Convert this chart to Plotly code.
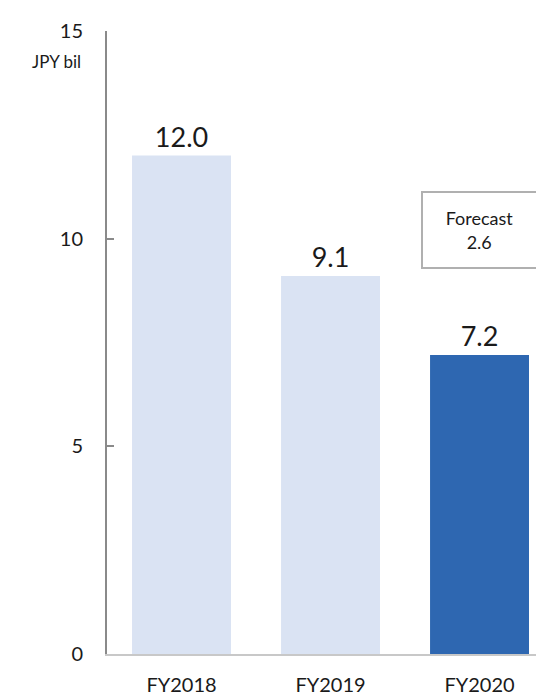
import plotly.graph_objects as go

categories = ["FY2018", "FY2019", "FY2020"]
values = [12.0, 9.1, 7.2]
labels = ["12.0", "9.1", "7.2"]
colors = ["#DAE3F3", "#DAE3F3", "#2E67B1"]
forecast_text = "Forecast<br>2.6"
y_ticks = [0, 5, 10, 15]
unit_label = "JPY bil"

FONT = "Lato"
TXT = "#1A1A1A"

fig = go.Figure()
fig.add_trace(go.Bar(
    x=categories, y=values,
    marker=dict(color=colors, line=dict(width=0)),
    width=0.664,
    text=labels, textposition="outside",
    textfont=dict(family=FONT, size=27, color=TXT),
    cliponaxis=False,
))

fig.add_annotation(
    x=2, y=10.2, xref="x", yref="y",
    text=forecast_text, showarrow=False,
    font=dict(family=FONT, size=18, color=TXT),
    width=111, height=72, align="center", valign="middle",
    bordercolor="#B0B0B0", borderwidth=2, bgcolor="white",
)
fig.add_annotation(
    xref="paper", yref="paper", x=-0.057, y=1.0 - (62 - 31) / 626.0,
    xanchor="right", yanchor="middle",
    text=unit_label, showarrow=False,
    font=dict(family=FONT, size=17, color=TXT),
)

fig.update_layout(
    width=536, height=696,
    margin=dict(l=107, r=0, t=31, b=39),
    paper_bgcolor="white", plot_bgcolor="white",
    showlegend=False,
    font=dict(family=FONT, color=TXT),
)
fig.update_xaxes(
    range=[-0.5, 2.379],
    showline=True, linecolor="#C8C8C8", linewidth=2,
    ticks="", showgrid=False,
    tickfont=dict(family=FONT, size=20, color=TXT),
    ticklabelstandoff=12,
)
fig.update_yaxes(
    range=[0, 15], tickvals=y_ticks,
    showline=True, linecolor="#8A8A8A", linewidth=2,
    ticks="inside", ticklen=7, tickcolor="#8A8A8A", tickwidth=2,
    showgrid=False, zeroline=False,
    tickfont=dict(family=FONT, size=20, color=TXT),
    ticklabelstandoff=18,
)

fig.write_html("out.html")
